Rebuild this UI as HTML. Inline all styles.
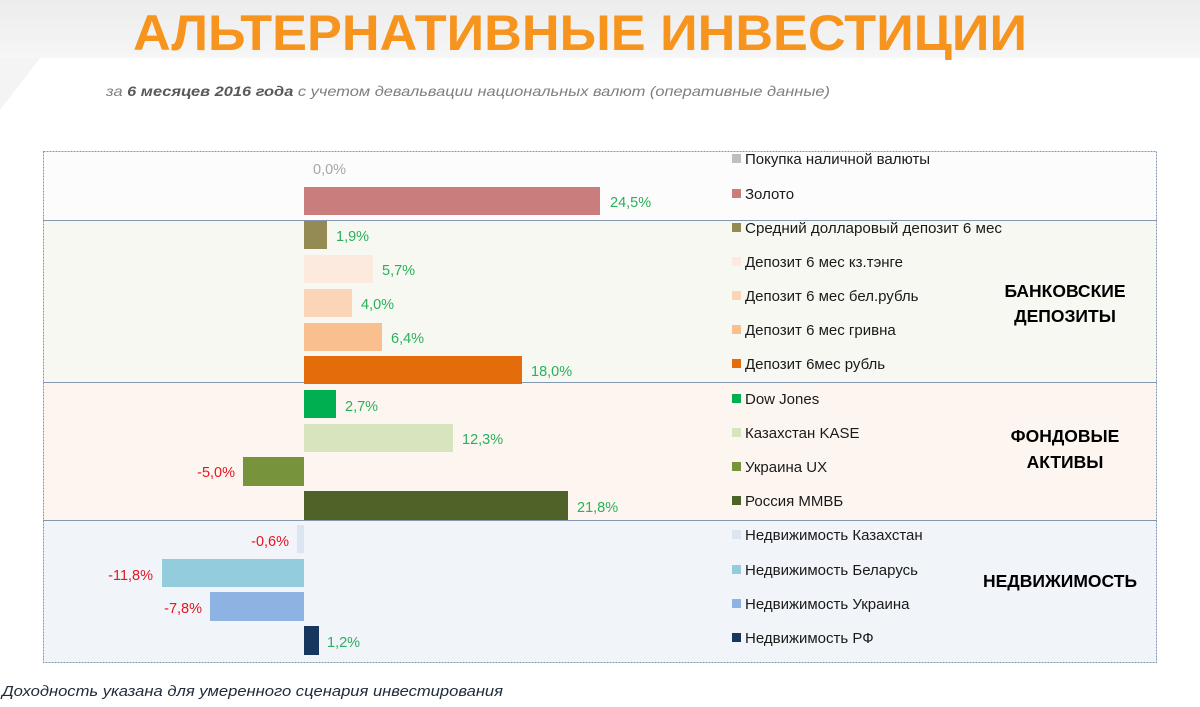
<!DOCTYPE html>
<html><head><meta charset="utf-8"><style>
html,body{margin:0;padding:0;background:#fff}
svg{display:block}
text{font-family:"Liberation Sans","DejaVu Sans",sans-serif}
</style></head><body>
<svg width="1200" height="707" viewBox="0 0 1200 707">
<defs><linearGradient id="g" x1="0" y1="0" x2="0" y2="1"><stop offset="0" stop-color="#ececec"/><stop offset="1" stop-color="#f6f6f6"/></linearGradient></defs>
<rect x="0" y="0" width="1200" height="58" fill="url(#g)"/>
<polygon points="0,58 40,58 0,110" fill="#f4f4f4"/>
<text x="580" y="50" text-anchor="middle" font-size="50" font-weight="bold" fill="#f7941d" textLength="894" lengthAdjust="spacingAndGlyphs">АЛЬТЕРНАТИВНЫЕ ИНВЕСТИЦИИ</text>
<text x="106" y="96" font-size="14" font-style="italic" fill="#7f7f7f" textLength="724" lengthAdjust="spacingAndGlyphs">за <tspan font-weight="bold" fill="#595959">6 месяцев 2016 года</tspan> с учетом девальвации национальных валют (оперативные данные)</text>
<rect x="43" y="151" width="1114" height="69" fill="#fcfcfd"/>
<rect x="43" y="220" width="1114" height="162" fill="#f6f8f1"/>
<rect x="43" y="382" width="1114" height="138" fill="#fdf6f0"/>
<rect x="43" y="520" width="1114" height="143" fill="#f1f4f9"/>
<g stroke="#8497b0" stroke-width="1" fill="none">
<rect x="43.5" y="151.5" width="1113" height="511" stroke-dasharray="2,1"/>
<line x1="43" y1="220.5" x2="1157" y2="220.5"/>
<line x1="43" y1="382.5" x2="1157" y2="382.5"/>
<line x1="43" y1="520.5" x2="1157" y2="520.5"/>
</g>
<g font-size="17.5" font-weight="bold" fill="#000" text-anchor="middle">
<text x="1065" y="297">БАНКОВСКИЕ</text><text x="1065" y="322">ДЕПОЗИТЫ</text>
<text x="1065" y="442">ФОНДОВЫЕ</text><text x="1065" y="468">АКТИВЫ</text>
<text x="1060" y="587">НЕДВИЖИМОСТЬ</text>
</g>
<g font-size="14.5">
<text x="313" y="174" fill="#a6a6a6">0,0%</text>
<rect x="304" y="187" width="296" height="28" fill="#c97d7d"/><text x="610" y="207" fill="#2ab05b">24,5%</text>
<rect x="304" y="221" width="23" height="28" fill="#948a54"/><text x="336" y="241" fill="#2ab05b">1,9%</text>
<rect x="304" y="255" width="69" height="28" fill="#fdeadf"/><text x="382" y="275" fill="#2ab05b">5,7%</text>
<rect x="304" y="289" width="48" height="28" fill="#fbd5b5"/><text x="361" y="309" fill="#2ab05b">4,0%</text>
<rect x="304" y="323" width="78" height="28" fill="#f9bf8f"/><text x="391" y="343" fill="#2ab05b">6,4%</text>
<rect x="304" y="356" width="218" height="28" fill="#e46c0a"/><text x="531" y="376" fill="#2ab05b">18,0%</text>
<rect x="304" y="390" width="32" height="28" fill="#00b050"/><text x="345" y="411" fill="#2ab05b">2,7%</text>
<rect x="304" y="424" width="149" height="28" fill="#d7e4bd"/><text x="462" y="444" fill="#2ab05b">12,3%</text>
<rect x="243" y="457" width="61" height="29" fill="#77933c"/><text x="235" y="477" fill="#e8141e" text-anchor="end">-5,0%</text>
<rect x="304" y="491" width="264" height="29" fill="#4f6228"/><text x="577" y="512" fill="#2ab05b">21,8%</text>
<rect x="297" y="525" width="7" height="28" fill="#dce6f2"/><text x="289" y="546" fill="#e8141e" text-anchor="end">-0,6%</text>
<rect x="162" y="559" width="142" height="28" fill="#93cddd"/><text x="153" y="580" fill="#e8141e" text-anchor="end">-11,8%</text>
<rect x="210" y="592" width="94" height="29" fill="#8db3e2"/><text x="202" y="613" fill="#e8141e" text-anchor="end">-7,8%</text>
<rect x="304" y="626" width="15" height="29" fill="#17375e"/><text x="327" y="647" fill="#2ab05b">1,2%</text>
</g>
<g font-size="15" fill="#1a1a1a">
<rect x="732" y="154" width="9" height="9" fill="#bfbfbf"/><text x="745" y="164">Покупка наличной валюты</text>
<rect x="732" y="189" width="9" height="9" fill="#c97d7d"/><text x="745" y="199">Золото</text>
<rect x="732" y="223" width="9" height="9" fill="#948a54"/><text x="745" y="233" textLength="257" lengthAdjust="spacingAndGlyphs">Средний долларовый депозит 6 мес</text>
<rect x="732" y="257" width="9" height="9" fill="#fdeadf"/><text x="745" y="267">Депозит 6 мес кз.тэнге</text>
<rect x="732" y="291" width="9" height="9" fill="#fbd5b5"/><text x="745" y="301">Депозит 6 мес бел.рубль</text>
<rect x="732" y="325" width="9" height="9" fill="#f9bf8f"/><text x="745" y="335">Депозит 6 мес гривна</text>
<rect x="732" y="359" width="9" height="9" fill="#e46c0a"/><text x="745" y="369">Депозит 6мес рубль</text>
<rect x="732" y="394" width="9" height="9" fill="#00b050"/><text x="745" y="404">Dow Jones</text>
<rect x="732" y="428" width="9" height="9" fill="#d7e4bd"/><text x="745" y="438">Казахстан KASE</text>
<rect x="732" y="462" width="9" height="9" fill="#77933c"/><text x="745" y="472">Украина UX</text>
<rect x="732" y="496" width="9" height="9" fill="#4f6228"/><text x="745" y="506">Россия ММВБ</text>
<rect x="732" y="530" width="9" height="9" fill="#dce6f2"/><text x="745" y="540">Недвижимость Казахстан</text>
<rect x="732" y="565" width="9" height="9" fill="#93cddd"/><text x="745" y="575">Недвижимость Беларусь</text>
<rect x="732" y="599" width="9" height="9" fill="#8db3e2"/><text x="745" y="609">Недвижимость Украина</text>
<rect x="732" y="633" width="9" height="9" fill="#17375e"/><text x="745" y="643">Недвижимость РФ</text>
</g>
<text x="2" y="696" font-size="15" font-style="italic" fill="#1f2a3a" textLength="501" lengthAdjust="spacingAndGlyphs">Доходность указана для умеренного сценария инвестирования</text>
</svg>
</body></html>
